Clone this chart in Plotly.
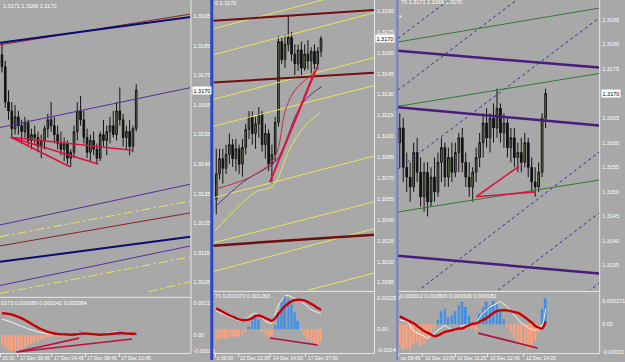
import plotly.graph_objects as go

W, H = 625, 362
BG = "#A8A8A8"
FONT = "Liberation Sans"
BULL = "#5E8048"
BEAR = "#111111"
WICK = "#141414"
POS = "#3D8FE8"
NEG = "#FFA07A"
FRAME = "#E8E8E8"

# ======================= DATA =======================
# ---- Panel 1 (EURUSD-like, bars 0..41) ----
P1_OPEN = [1.3182,1.3178,1.3166,1.3163,1.3157,1.3161,1.3158,1.3156,1.3159,1.3153,
           1.3155,1.3154,1.3151,1.3153,1.3157,1.3160,1.3158,1.3155,1.3152,1.3150,
           1.3152,1.3147,1.3149,1.3156,1.3163,1.3160,1.3154,1.3149,1.3153,1.3150,
           1.3147,1.3155,1.3153,1.3156,1.3158,1.3155,1.3163,1.3160,1.3154,1.3156,
           1.3151,1.3157]
P1_HIGH = [1.3186,1.3180,1.3170,1.3166,1.3165,1.3163,1.3160,1.3161,1.3160,1.3157,
           1.3158,1.3156,1.3155,1.3158,1.3162,1.3166,1.3161,1.3158,1.3156,1.3154,
           1.3153,1.3150,1.3158,1.3166,1.3168,1.3163,1.3157,1.3155,1.3156,1.3152,
           1.3156,1.3160,1.3158,1.3161,1.3163,1.3166,1.3171,1.3162,1.3158,1.3160,
           1.3158,1.3172]
P1_LOW = [1.3176,1.3164,1.3160,1.3154,1.3155,1.3155,1.3152,1.3154,1.3151,1.3150,
          1.3152,1.3149,1.3147,1.3150,1.3154,1.3156,1.3152,1.3150,1.3148,1.3146,
          1.3145,1.3144,1.3147,1.3153,1.3158,1.3152,1.3147,1.3146,1.3148,1.3145,
          1.3146,1.3151,1.3148,1.3152,1.3154,1.3153,1.3158,1.3151,1.3150,1.3148,
          1.3149,1.3156]
P1_CLOSE = [1.3178,1.3166,1.3163,1.3157,1.3161,1.3158,1.3156,1.3159,1.3153,1.3155,
            1.3154,1.3151,1.3153,1.3157,1.3160,1.3158,1.3155,1.3152,1.3150,1.3152,
            1.3147,1.3149,1.3156,1.3163,1.3160,1.3154,1.3149,1.3153,1.3150,1.3147,
            1.3155,1.3153,1.3156,1.3158,1.3155,1.3163,1.3160,1.3154,1.3156,1.3151,
            1.3157,1.3170]
P1_HIST = [-0.0006,-0.0008,-0.00095,-0.00105,-0.00105,-0.001,-0.0009,-0.0008,-0.0007,-0.0006,
           -0.0005,-0.0004,-0.0003,-0.0002,-0.00013,-0.0001,-0.00006,-0.00007,-0.00009,-0.0001,
           -0.00008,-0.00005,0.00005,0.00015,0.0003,0.0002,0.00005,-0.00004,-0.00008,-0.0001,
           -0.00006,-0.00002,0.00004,0.00008,0.00015,0.00028,0.0003,0.0002,0.00008,-0.00002,
           0.00004,0.0001]
P1_SIGNAL = [0.00145,0.00144,0.00141,0.00136,0.0013,0.00121,0.00111,0.001,0.00088,0.00075,
             0.00062,0.0005,0.00039,0.0003,0.00022,0.00016,0.00011,0.00008,0.00006,0.00005,
             0.00004,0.00003,0.00004,0.00007,0.0001,0.00011,0.0001,0.00008,0.00006,0.00004,
             0.00003,0.00004,0.00006,0.00008,0.0001,0.00012,0.00014,0.00013,0.00011,0.00009,
             0.00009,0.0001]
P1_MACD = [0.00105,0.001,0.00093,0.00085,0.00076,0.00067,0.00058,0.0005,0.00042,0.00035,
           0.00028,0.00022,0.00017,0.00012,0.00009,0.00008,0.00007,0.00005,0.00003,0.00002,
           0.00002,0.00004,0.00008,0.00014,0.00018,0.00015,0.00009,0.00005,0.00003,0.00002,
           0.00004,0.00008,0.00012,0.00016,0.00019,0.00022,0.0002,0.00015,0.0001,0.00007,
           0.0001,0.00015]
P1_EDGE_T = [-0.61, 57.6]
P1_BROWN_TOP = [1.31854, 1.31958]
P1_NAVY_TOP = [1.31861, 1.31948]
P1_PURPLE_MID = [1.31574, 1.31709]
P1_PURPLE_LOW1 = [1.31244, 1.31382]
P1_YELLOW_LOW1 = [1.31204, 1.31325]
P1_BROWN_LOW = [1.31173, 1.31285]
P1_NAVY_LOW = [1.31119, 1.31204]
P1_PURPLE_LOW2 = [1.31039, 1.31173]
P1_YELLOW_LOW2 = [1.31012, 1.31136]
P1_YELLOW_LOW3_T = [44.8, 57.6]
P1_YELLOW_LOW3 = [1.31018, 1.31052]
P1_FAN_START = (2.7, 1.31541)
P1_FAN_END_T = [20.9, 29.4, 39.7]
P1_FAN_END_P = [1.3144, 1.3145, 1.31497]
P1_IFAN_START = (4.5, -0.00112)
P1_IFAN_END_T = [23.6, 39.7]
P1_IFAN_END_V = [-0.0002, -0.00026]
P1_PRICE_TICKS = [1.3195, 1.3185, 1.3175, 1.3165, 1.3155, 1.3145, 1.3135, 1.3125, 1.3115, 1.3105]
P1_IND_TICKS = [0.00211, 0.0, -0.00105]
P1_IND_TEXT = ["0.00211", "0.00", "-0.00105"]
P1_TIME_T = [-0.6, 4.85, 15.15, 25.45, 35.76]
P1_TIME_TEXT = ["15:30", "17 Dec 00:45", "17 Dec 04:45", "17 Dec 08:45", "17 Dec 12:45"]

# ---- Panel 2 (bars 0..32) ----
P2_OPEN = [1.3055,1.3073,1.3084,1.3077,1.3087,1.3094,1.3084,1.3091,1.3080,1.3092,
           1.3105,1.3114,1.3102,1.3109,1.3116,1.3094,1.3102,1.3080,1.3087,1.3110,
           1.3168,1.3155,1.3166,1.3171,1.3159,1.3152,1.3162,1.3149,1.3159,1.3154,
           1.3161,1.3152,1.3161]
P2_HIGH = [1.3091,1.3091,1.3091,1.3094,1.3102,1.3098,1.3098,1.3094,1.3098,1.3109,
           1.3118,1.3118,1.3114,1.3121,1.3118,1.3109,1.3105,1.3094,1.3114,1.3172,
           1.3171,1.3173,1.3187,1.3175,1.3166,1.3166,1.3168,1.3166,1.3169,1.3164,
           1.3166,1.3164,1.3172]
P2_LOW = [1.3044,1.3069,1.3066,1.3073,1.3080,1.3078,1.3075,1.3073,1.3071,1.3087,
          1.3098,1.3094,1.3091,1.3099,1.3089,1.3084,1.3075,1.3066,1.3082,1.3107,
          1.3152,1.3149,1.3161,1.3154,1.3144,1.3147,1.3144,1.3147,1.3148,1.3144,
          1.3148,1.3148,1.3157]
P2_CLOSE = [1.3073,1.3084,1.3077,1.3087,1.3094,1.3084,1.3091,1.3080,1.3092,1.3105,
            1.3114,1.3102,1.3109,1.3116,1.3094,1.3102,1.3080,1.3087,1.3110,1.3168,
            1.3155,1.3166,1.3171,1.3159,1.3152,1.3162,1.3149,1.3159,1.3154,1.3161,
            1.3152,1.3161,1.3170]
P2_HIST = [-0.0008,-0.0007,-0.0006,-0.00065,-0.0006,-0.0005,-0.0006,-0.0005,-0.0004,-0.0002,
           0.0002,0.0006,0.0009,0.0007,-0.0002,-0.0004,-0.0006,-0.0005,0.0003,0.0012,
           0.002,0.0024,0.0022,0.0018,0.0012,0.0006,-0.0001,-0.0004,-0.0007,-0.0009,
           -0.001,-0.0011,-0.0009]
P2_SIGNAL = [0.0015,0.00138,0.00125,0.00112,0.001,0.0009,0.0008,0.0007,0.00064,0.00065,
             0.0007,0.00078,0.00095,0.00098,0.0009,0.0008,0.0007,0.0006,0.0008,0.0011,
             0.0014,0.00165,0.00185,0.002,0.0021,0.00212,0.0021,0.00205,0.00195,0.00182,
             0.00168,0.00152,0.00138]
P2_MACD = [0.0013,0.0012,0.0011,0.001,0.0009,0.0008,0.0007,0.0006,0.00057,0.0007,
           0.0009,0.00105,0.00114,0.001,0.0008,0.0006,0.00045,0.00045,0.0011,0.0017,
           0.0021,0.0024,0.00243,0.0023,0.0022,0.0021,0.002,0.0018,0.0016,0.0014,
           0.0013,0.0012,0.00112]
P2_EDGE_T = [-0.91, 48.18]
P2_MAROON_1 = [1.31829, 1.31907]
P2_MAROON_2 = [1.31386, 1.31457]
P2_MAROON_3 = [1.30215, 1.30294]
P2_YELLOW_1 = [1.31771, 1.32077]
P2_YELLOW_2 = [1.31586, 1.31886]
P2_YELLOW_3 = [1.31265, 1.31564]
P2_YELLOW_4 = [1.31072, 1.31364]
P2_YELLOW_5 = [1.30558, 1.30858]
P2_YELLOW_6 = [1.30236, 1.30529]
P2_YELLOW_7 = [1.30029, 1.30336]
P2_YELLOW_8_T = [27.9, 48.18]
P2_YELLOW_8 = [1.29894, 1.30018]
P2_MA_RED_T = [-0.3, 5, 12.1, 17.9, 21.2, 24.2, 29.4]
P2_MA_RED = [1.30622, 1.30658, 1.30729, 1.30851, 1.31194, 1.31336, 1.31444]
P2_MA_PURPLE_T = [-0.3, 8.2, 17.9, 20.3, 24.2, 27.3, 32.3]
P2_MA_PURPLE = [1.30494, 1.30672, 1.30815, 1.30908, 1.31144, 1.31265, 1.31358]
P2_MA_YELLOW_T = [-0.3, 6.1, 12.1, 17.3, 22.4, 27.0, 31.8]
P2_MA_YELLOW = [1.30322, 1.30480, 1.30601, 1.30644, 1.30908, 1.31072, 1.31172]
P2_FAN_START = (16.4, 1.30672)
P2_FAN_END_T = [30.0, 30.9]
P2_FAN_END_P = [1.31465, 1.31501]
P2_IND_LINE_T = [16.4, 30.9]
P2_IND_LINE_V = [-0.00064, -0.00114]
P2_PRICE_TICKS = [1.3190, 1.3175, 1.3160, 1.3145, 1.3130, 1.3115, 1.3100,
                  1.3085, 1.3070, 1.3055, 1.3040, 1.3025, 1.3010, 1.2995]
P2_IND_TICKS = [0.002259, 0.0, -0.00148]
P2_IND_TEXT = ["0.002259", "0.00", "-0.00148"]
P2_TIME_T = [-0.3, 6.7, 16.7, 27.3]
P2_TIME_TEXT = ["c 06:00", "12 Dec 22:05", "14 Dec 14:00", "17 Dec 07:00"]

# ---- Panel 3 (bars 0..42) ----
P3_OPEN = [1.3160,1.3163,1.3155,1.3153,1.3151,1.3158,1.3154,1.3149,1.3154,1.3148,
           1.3153,1.3150,1.3156,1.3159,1.3153,1.3157,1.3154,1.3158,1.3161,1.3156,
           1.3153,1.3151,1.3154,1.3157,1.3160,1.3164,1.3161,1.3165,1.3163,1.3167,
           1.3162,1.3164,1.3159,1.3161,1.3157,1.3158,1.3156,1.3160,1.3155,1.3152,
           1.3151,1.3154,1.3165]
P3_HIGH = [1.3166,1.3165,1.3158,1.3156,1.3160,1.3161,1.3157,1.3156,1.3156,1.3155,
           1.3157,1.3158,1.3161,1.3160,1.3159,1.3160,1.3160,1.3162,1.3163,1.3158,
           1.3156,1.3155,1.3159,1.3162,1.3166,1.3167,1.3166,1.3168,1.3171,1.3168,
           1.3166,1.3165,1.3163,1.3163,1.3160,1.3161,1.3162,1.3161,1.3157,1.3155,
           1.3156,1.3166,1.3171]
P3_LOW = [1.3155,1.3152,1.3150,1.3148,1.3150,1.3152,1.3147,1.3146,1.3145,1.3147,
          1.3148,1.3149,1.3152,1.3151,1.3151,1.3152,1.3153,1.3154,1.3154,1.3151,
          1.3149,1.3148,1.3152,1.3155,1.3157,1.3159,1.3158,1.3160,1.3161,1.3160,
          1.3159,1.3157,1.3156,1.3155,1.3154,1.3154,1.3155,1.3153,1.3150,1.3149,
          1.3150,1.3153,1.3163]
P3_CLOSE = [1.3163,1.3155,1.3153,1.3151,1.3158,1.3154,1.3149,1.3154,1.3148,1.3153,
            1.3150,1.3156,1.3159,1.3153,1.3157,1.3154,1.3158,1.3161,1.3156,1.3153,
            1.3151,1.3154,1.3157,1.3160,1.3164,1.3161,1.3165,1.3163,1.3167,1.3162,
            1.3164,1.3159,1.3161,1.3157,1.3158,1.3156,1.3160,1.3155,1.3152,1.3151,
            1.3154,1.3165,1.3170]
P3_HIST = [-0.00025,-0.0003,-0.00028,-0.0003,-0.00022,-0.0002,-0.00025,-0.00022,-0.00018,-0.0001,
           -0.00005,0.00005,0.00015,0.00018,0.00008,0.0001,0.00015,0.00022,0.00026,0.0002,
           0.0001,-0.00005,-0.00008,0.00012,0.0002,0.00026,0.00022,0.00027,0.00024,0.00015,
           0.00006,-0.00003,-0.0001,-0.00015,-0.0002,-0.00022,-0.00025,-0.00028,-0.00026,-0.0002,
           -0.0001,0.00018,0.0003]
P3_SIGNAL = [0.00009,0.00007,0.00005,0.00003,0.00001,-0.00002,-0.00005,-0.00008,-0.0001,-0.00012,
             -0.00014,-0.00013,-0.00011,-0.00009,-0.00008,-0.00007,-0.00006,-0.00005,-0.00005,-0.00003,
             -0.00001,0.000005,0.00001,0.00003,0.00005,0.00007,0.0001,0.00013,0.00015,0.00016,
             0.00016,0.00016,0.00015,0.00014,0.00013,0.00011,0.00008,0.00005,0.00002,-0.00002,
             -0.00004,-0.00005,0.00003]
P3_MACD = [0.00005,0.00004,0.000035,-0.00002,-0.00008,-0.0001,-0.00012,-0.00014,-0.00016,-0.00013,
           -0.0001,-0.00007,-0.00004,-0.00002,-0.00004,-0.00006,-0.00007,-0.00004,-0.00002,-0.00001,
           0.0,0.00001,0.00001,0.00008,0.00013,0.00016,0.0002,0.00022,0.00024,0.00026,
           0.00023,0.0002,0.00015,0.0001,0.00006,0.00001,-0.00001,-0.00004,-0.00006,-0.00007,
           -0.00004,-0.00001,0.00018]
P3_EDGE_T = [-0.571, 57.43]
P3_GREEN_1 = [1.31805, 1.31874]
P3_GREEN_2 = [1.31674, 1.31741]
P3_GREEN_3 = [1.31459, 1.31524]
P3_PURPLE_1 = [1.31787, 1.31753]
P3_PURPLE_2 = [1.31672, 1.31635]
P3_PURPLE_3 = [1.31370, 1.31334]
P3_DASH_A = [1.31812, 1.32123]
P3_DASH_B = [1.31707, 1.32018]
P3_DASH_C = [1.31546, 1.31854]
P3_DASH_D = [1.31267, 1.31581]
P3_DASH_E = [1.31144, 1.31457]
P3_DASH_F = [1.31000, 1.31314]
P3_FAN_START = (22.0, 1.3149)
P3_FAN_END_T = [34.3, 39.1]
P3_FAN_END_P = [1.31552, 1.3150]
P3_IND_LINE_T = [22.6, 39.7]
P3_IND_LINE_V = [-0.0001035, -0.000276]
P3_PRICE_TICKS = [1.3185, 1.3180, 1.3175, 1.3165, 1.3160, 1.3155, 1.3150, 1.3145, 1.3140, 1.3135]
P3_IND_TICKS = [0.000271, 0.0, -0.00032]
P3_IND_TEXT = ["0.000271", "0.00", "-0.00032"]
P3_TIME_T = [-0.3, 6.6, 16.0, 25.4, 35.7]
P3_TIME_TEXT = ["ec 08:45", "12 Dec 10:05", "12 Dec 11:25", "12 Dec 12:45", "12 Dec 14:05"]

HEAD_P1 = "1.3171 1.3168 1.3170"
HEAD_P2 = "0 1.3170"
HEAD_P3 = "70 1.3171 1.3169 1.3170"
IHEAD_P1 = "0173 0.000080 0.000142 0.000084"
IHEAD_P2 = "71 0.001073 0.001263"
IHEAD_P3 = "0.000312 0.000800 0.000106 0.000082"

# ======================= FIGURE =======================
fig = go.Figure()


def line(t, p, xa, ya, color, width=1.0, dash="solid", shape="linear"):
    fig.add_trace(go.Scatter(x=t, y=p, mode="lines", xaxis=xa, yaxis=ya, hoverinfo="skip",
                             line=dict(color=color, width=width, dash=dash, shape=shape)))


def candles(o, h, l, c, xa, ya):
    fig.add_trace(go.Candlestick(x=list(range(len(o))), open=o, high=h, low=l, close=c,
                                 xaxis=xa, yaxis=ya, whiskerwidth=0, hoverinfo="skip",
                                 increasing=dict(fillcolor=BULL, line=dict(color=WICK, width=1)),
                                 decreasing=dict(fillcolor=BEAR, line=dict(color=WICK, width=1))))


def histo(v, xa, ya):
    fig.add_trace(go.Bar(x=list(range(len(v))), y=v, xaxis=xa, yaxis=ya, width=0.55,
                         hoverinfo="skip",
                         marker=dict(color=[POS if a >= 0 else NEG for a in v], line=dict(width=0))))


def fan(start, ends_t, ends_p, xa, ya, color, width):
    for t, p in zip(ends_t, ends_p):
        line([start[0], t], [start[1], p], xa, ya, color, width)


# ---- Panel 1 main ----
YEL = "#E8E45C"
line(P1_EDGE_T, P1_BROWN_TOP, "x", "y", "#8B2323", 1)
line(P1_EDGE_T, P1_NAVY_TOP, "x", "y", "#0C0C72", 2)
line(P1_EDGE_T, P1_PURPLE_MID, "x", "y", "#55309A", 1)
line(P1_EDGE_T, P1_PURPLE_LOW1, "x", "y", "#55309A", 1)
line(P1_EDGE_T, P1_YELLOW_LOW1, "x", "y", YEL, 1, "dashdot")
line(P1_EDGE_T, P1_BROWN_LOW, "x", "y", "#8B2323", 1)
line(P1_EDGE_T, P1_NAVY_LOW, "x", "y", "#0C0C72", 2)
line(P1_EDGE_T, P1_PURPLE_LOW2, "x", "y", "#55309A", 1)
line(P1_EDGE_T, P1_YELLOW_LOW2, "x", "y", YEL, 1, "dashdot")
line(P1_YELLOW_LOW3_T, P1_YELLOW_LOW3, "x", "y", YEL, 1, "dashdot")
candles(P1_OPEN, P1_HIGH, P1_LOW, P1_CLOSE, "x", "y")
fan(P1_FAN_START, P1_FAN_END_T, P1_FAN_END_P, "x", "y", "#DC143C", 1.6)

# ---- Panel 2 main ----
for arr in (P2_YELLOW_1, P2_YELLOW_2, P2_YELLOW_3, P2_YELLOW_4, P2_YELLOW_5, P2_YELLOW_6, P2_YELLOW_7):
    line(P2_EDGE_T, arr, "x2", "y2", YEL, 1)
line(P2_YELLOW_8_T, P2_YELLOW_8, "x2", "y2", YEL, 1)
line(P2_EDGE_T, P2_MAROON_1, "x2", "y2", "#6E0E0E", 2)
line(P2_EDGE_T, P2_MAROON_2, "x2", "y2", "#6E0E0E", 2)
line(P2_EDGE_T, P2_MAROON_3, "x2", "y2", "#6E0E0E", 2.5)
line(P2_MA_YELLOW_T, P2_MA_YELLOW, "x2", "y2", YEL, 1, shape="spline")
line(P2_MA_PURPLE_T, P2_MA_PURPLE, "x2", "y2", "#5A2E8C", 1, shape="spline")
line(P2_MA_RED_T, P2_MA_RED, "x2", "y2", "#C0303C", 1, shape="spline")
candles(P2_OPEN, P2_HIGH, P2_LOW, P2_CLOSE, "x2", "y2")
fan(P2_FAN_START, P2_FAN_END_T, P2_FAN_END_P, "x2", "y2", "#DC143C", 1.6)

# ---- Panel 3 main ----
for arr in (P3_DASH_A, P3_DASH_B, P3_DASH_C, P3_DASH_D, P3_DASH_E, P3_DASH_F):
    line(P3_EDGE_T, arr, "x3", "y3", "#2E2E9A", 1, "dot")
for arr in (P3_GREEN_1, P3_GREEN_2, P3_GREEN_3):
    line(P3_EDGE_T, arr, "x3", "y3", "#2F7D32", 1)
for arr in (P3_PURPLE_1, P3_PURPLE_2, P3_PURPLE_3):
    line(P3_EDGE_T, arr, "x3", "y3", "#4A1C7C", 2.5)
candles(P3_OPEN, P3_HIGH, P3_LOW, P3_CLOSE, "x3", "y3")
fan(P3_FAN_START, P3_FAN_END_T, P3_FAN_END_P, "x3", "y3", "#DC143C", 1.6)

# ---- Indicators ----
for hist, sig, macd, xa, ya in ((P1_HIST, P1_SIGNAL, P1_MACD, "x4", "y4"),
                                (P2_HIST, P2_SIGNAL, P2_MACD, "x5", "y5"),
                                (P3_HIST, P3_SIGNAL, P3_MACD, "x6", "y6")):
    histo(hist, xa, ya)
    idx = list(range(len(sig)))
    line(idx, macd, xa, ya, "#F4F4F4", 1, shape="spline")
    line(idx, sig, xa, ya, "#C80000", 2.4, shape="spline")
fan(P1_IFAN_START, P1_IFAN_END_T, P1_IFAN_END_V, "x4", "y4", "#C0103A", 1.6)
line(P2_IND_LINE_T, P2_IND_LINE_V, "x5", "y5", "#B0103A", 1.6)
line(P3_IND_LINE_T, P3_IND_LINE_V, "x6", "y6", "#B0103A", 1.6)

# ======================= LAYOUT =======================
def px(v):
    return v / W


def py(v):
    return 1 - v / H


def xaxis(d0, d1, rng, anchor, ticks=None):
    ax = dict(domain=[px(d0), px(d1)], range=rng, anchor=anchor, showgrid=False, zeroline=False,
              showticklabels=False, showline=False, fixedrange=True,
              rangeslider=dict(visible=False))
    if ticks is None:
        ax.update(ticks="")
    else:
        ax.update(tickvals=ticks, ticks="outside", ticklen=3, tickwidth=1, tickcolor=FRAME)
    return ax


def yaxis(t0, t1, rng, anchor, tv, tt):
    return dict(domain=[py(t1), py(t0)], range=rng, anchor=anchor, side="right", showgrid=False,
                zeroline=False, showline=False, fixedrange=True, ticks="",
                tickvals=tv, ticktext=tt, ticklabelstandoff=2,
                tickfont=dict(size=5.5, color="white", family=FONT))


fmt = lambda vals: [f"{v:.4f}" for v in vals]

layout = dict(
    width=W, height=H, margin=dict(l=0, r=0, t=0, b=0),
    paper_bgcolor=BG, plot_bgcolor=BG, showlegend=False,
    font=dict(family=FONT, color="white"),
    xaxis=xaxis(0, 192, [-0.606, 57.58], "y"),
    yaxis=yaxis(0, 298, [1.310022, 1.320056], "x", P1_PRICE_TICKS, fmt(P1_PRICE_TICKS)),
    xaxis2=xaxis(215, 377, [-0.909, 48.18], "y2"),
    yaxis2=yaxis(0, 292, [1.298937, 1.319785], "x2", P2_PRICE_TICKS, fmt(P2_PRICE_TICKS)),
    xaxis3=xaxis(401, 604, [-0.571, 57.43], "y3"),
    yaxis3=yaxis(0, 292, [1.312994, 1.318905], "x3", P3_PRICE_TICKS, fmt(P3_PRICE_TICKS)),
    xaxis4=xaxis(0, 192, [-0.606, 57.58], "y4", P1_TIME_T),
    yaxis4=yaxis(300, 355, [-0.001186, 0.002438], "x4", P1_IND_TICKS, P1_IND_TEXT),
    xaxis5=xaxis(215, 377, [-0.909, 48.18], "y5", P2_TIME_T),
    yaxis5=yaxis(294, 355, [-0.001716, 0.002646], "x5", P2_IND_TICKS, P2_IND_TEXT),
    xaxis6=xaxis(401, 604, [-0.571, 57.43], "y6", P3_TIME_T),
    yaxis6=yaxis(294, 355, [-0.000334, 0.000368], "x6", P3_IND_TICKS, P3_IND_TEXT),
)
fig.update_layout(**layout)

# ---- frames (paper coordinates) ----
def vseg(x, y0, y1, color, width):
    fig.add_shape(type="line", xref="paper", yref="paper", x0=px(x), x1=px(x), y0=py(y0), y1=py(y1),
                  line=dict(color=color, width=width), layer="above")


def hseg(y, x0, x1, color, width):
    fig.add_shape(type="line", xref="paper", yref="paper", x0=px(x0), x1=px(x1), y0=py(y), y1=py(y),
                  line=dict(color=color, width=width), layer="above")


for xr in (192.5, 377.5, 604.5):
    vseg(xr, 0, 355.5, FRAME, 1)
hseg(299, 0, 192.5, FRAME, 1)
hseg(293, 215, 377.5, FRAME, 1)
hseg(293, 401, 604.5, FRAME, 1)
hseg(355.5, 0, 192.5, FRAME, 1)
hseg(355.5, 215, 377.5, FRAME, 1)
hseg(355.5, 401, 604.5, FRAME, 1)
vseg(213.5, 0, 362, "#2B45C9", 3)
vseg(400.5, 0, 362, "#6F7FD6", 2)


# ---- texts ----
def txt(x, y, s, size=5.5, color="white"):
    fig.add_annotation(x=px(x), y=py(y), xref="paper", yref="paper", text=s, showarrow=False,
                       xanchor="left", yanchor="middle", borderpad=0,
                       font=dict(size=size, color=color, family=FONT))


txt(2, 6, HEAD_P1)
txt(216, 3, HEAD_P2)
txt(403, 2, HEAD_P3)
txt(401, 18, "*", size=7)
txt(0, 305, IHEAD_P1)
txt(216, 298, IHEAD_P2)
txt(402, 298, IHEAD_P3)

for tvals, texts, xr in ((P1_TIME_T, P1_TIME_TEXT, "x4"), (P2_TIME_T, P2_TIME_TEXT, "x5"),
                         (P3_TIME_T, P3_TIME_TEXT, "x6")):
    for t, s in zip(tvals, texts):
        fig.add_annotation(x=t, xref=xr, y=py(359.5), yref="paper", text=s, showarrow=False,
                           xanchor="left", yanchor="middle", xshift=1, borderpad=0,
                           font=dict(size=5, color="white", family=FONT))

# current price tags
for close, xpos, yr in ((P1_CLOSE, 193.5, "y"), (P2_CLOSE, 378.5, "y2"), (P3_CLOSE, 605.5, "y3")):
    fig.add_annotation(x=px(xpos), xref="paper", y=close[-1], yref=yr, text=f"{close[-1]:.4f}",
                       showarrow=False, xanchor="left", yanchor="middle", bgcolor="white",
                       borderpad=0.5, font=dict(size=5.5, color="black", family=FONT))

fig.write_html("out.html")
